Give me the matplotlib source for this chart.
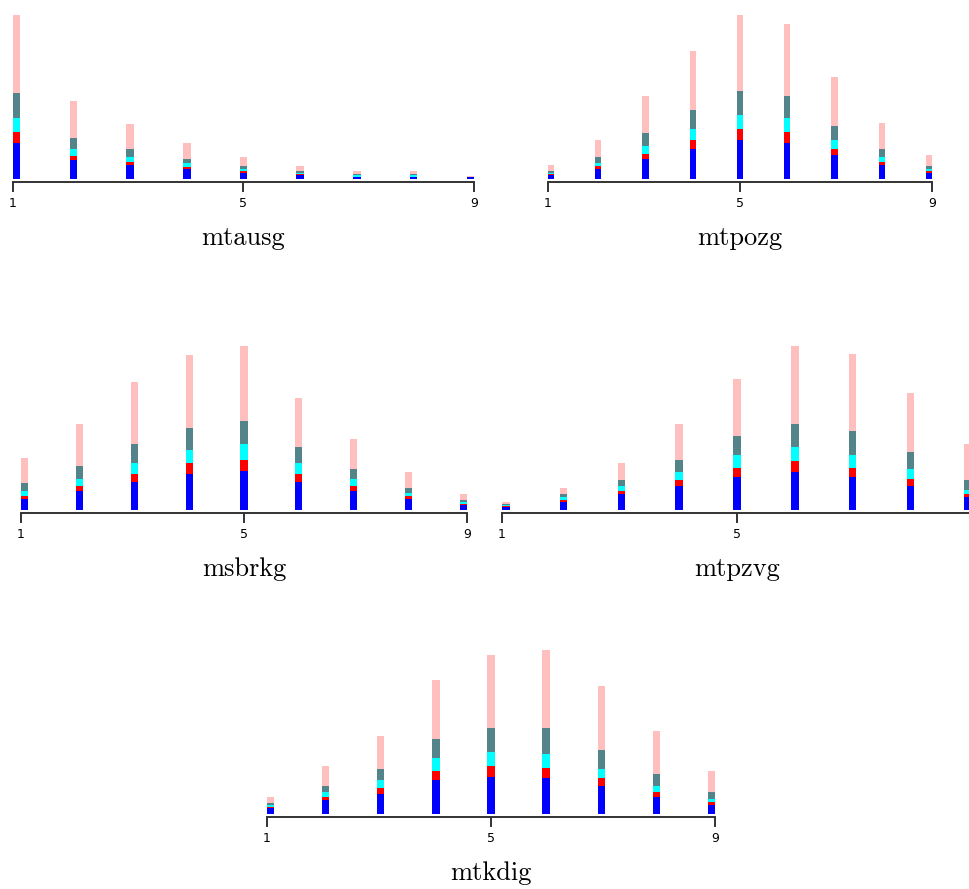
import matplotlib
matplotlib.use("Agg")
import matplotlib.pyplot as plt
import numpy as np

# ---- data (stack order bottom -> top: blue, red, cyan, teal, pink) ----
categories = [1, 2, 3, 4, 5, 6, 7, 8, 9]
tick_labels = ["1", "5", "9"]
panel_names = ["mtausg", "mtpozg", "msbrkg", "mtpzvg", "mtkdig"]

mtausg_blue = [107, 56, 42, 29, 19, 11, 6, 6, 5]
mtausg_red = [33, 14, 10, 8, 4, 3, 1, 1, 1]
mtausg_cyan = [42, 19, 13, 10, 6, 4, 4, 4, 0]
mtausg_teal = [75, 33, 24, 14, 9, 5, 5, 5, 0]
mtausg_pink = [235, 113, 75, 46, 28, 15, 7, 7, 4]

mtpozg_blue = [11, 29, 61, 89, 117, 107, 71, 42, 19]
mtpozg_red = [4, 9, 14, 28, 33, 34, 19, 10, 5]
mtpozg_cyan = [4, 9, 24, 33, 42, 42, 28, 14, 5]
mtpozg_teal = [5, 19, 38, 57, 72, 66, 42, 23, 9]
mtpozg_pink = [18, 51, 112, 178, 228, 215, 145, 80, 33]

msbrkg_blue = [33, 56, 85, 108, 117, 85, 56, 33, 15]
msbrkg_red = [10, 15, 23, 33, 33, 23, 15, 10, 4]
msbrkg_cyan = [13, 23, 33, 38, 47, 33, 23, 9, 5]
msbrkg_teal = [24, 38, 57, 66, 71, 47, 28, 14, 6]
msbrkg_pink = [75, 126, 187, 220, 225, 150, 90, 47, 17]

mtpzvg_blue = [9, 25, 47, 71, 99, 113, 99, 71, 38]
mtpzvg_red = [2, 4, 10, 19, 28, 33, 28, 23, 9]
mtpzvg_cyan = [4, 9, 14, 23, 38, 42, 38, 29, 14]
mtpzvg_teal = [4, 10, 19, 38, 56, 71, 71, 51, 29]
mtpzvg_pink = [5, 18, 51, 107, 174, 234, 234, 179, 107]

mtkdig_blue = [18, 41, 60, 102, 112, 107, 84, 51, 27]
mtkdig_red = [4, 10, 19, 29, 33, 33, 23, 14, 10]
mtkdig_cyan = [4, 14, 23, 37, 42, 42, 29, 19, 9]
mtkdig_teal = [6, 19, 34, 57, 71, 76, 56, 37, 19]
mtkdig_pink = [19, 61, 98, 180, 222, 236, 193, 128, 66]

series_colors = ["#0000ff", "#ff0000", "#00ffff", "#528489", "#ffbfbf"]

panels = [
    [mtausg_blue, mtausg_red, mtausg_cyan, mtausg_teal, mtausg_pink],
    [mtpozg_blue, mtpozg_red, mtpozg_cyan, mtpozg_teal, mtpozg_pink],
    [msbrkg_blue, msbrkg_red, msbrkg_cyan, msbrkg_teal, msbrkg_pink],
    [mtpzvg_blue, mtpzvg_red, mtpzvg_cyan, mtpzvg_teal, mtpzvg_pink],
    [mtkdig_blue, mtkdig_red, mtkdig_cyan, mtkdig_teal, mtkdig_pink],
]

# ---- layout (pixel boxes: left, right, bars-bottom, top-of-max) ----
W, H = 970, 889
boxes = [
    (13, 474, 179, 15),
    (548, 932, 179, 15),
    (21, 467, 510, 346),
    (502, 972, 510, 346),
    (267, 715, 814, 650),
]

fig = plt.figure(figsize=(W / 100, H / 100), dpi=100)
fig.patch.set_facecolor("white")

bar_w = 0.13
axis_col = "#333333"

for name, series, (L, R, B, T) in zip(panel_names, panels, boxes):
    ax = fig.add_axes([L / W, 1 - B / H, (R - L) / W, (B - T) / H])
    n = len(categories)
    lo, hi = categories[0], categories[-1]
    step = (hi - lo - bar_w) / (n - 1)
    xpos = lo + bar_w / 2 + np.arange(n) * step
    bottom = np.zeros(n)
    for vals, col in zip(series, series_colors):
        v = np.asarray(vals, dtype=float)
        ax.bar(xpos, v, width=bar_w, bottom=bottom, color=col,
               edgecolor="none", linewidth=0)
        bottom += v
    ax.set_xlim(lo, hi)
    ax.set_ylim(0, bottom.max())
    ax.patch.set_visible(False)
    for s in ["top", "right", "left"]:
        ax.spines[s].set_visible(False)
    ax.spines["bottom"].set_position(("outward", 2))
    ax.spines["bottom"].set_color(axis_col)
    ax.spines["bottom"].set_linewidth(1.4)
    ax.set_yticks([])
    ax.set_xticks([int(t) for t in tick_labels])
    ax.set_xticklabels(tick_labels, fontsize=9, family="DejaVu Sans")
    ax.tick_params(axis="x", direction="out", length=7, width=1.4,
                   color=axis_col, pad=4, labelcolor="black")
    ax.annotate(name, xy=(0.5, 0), xycoords="axes fraction",
                xytext=(0, -47.5), textcoords="offset points",
                ha="center", va="baseline", fontsize=19, family="cmr10")

fig.savefig("out.png", dpi=100)
